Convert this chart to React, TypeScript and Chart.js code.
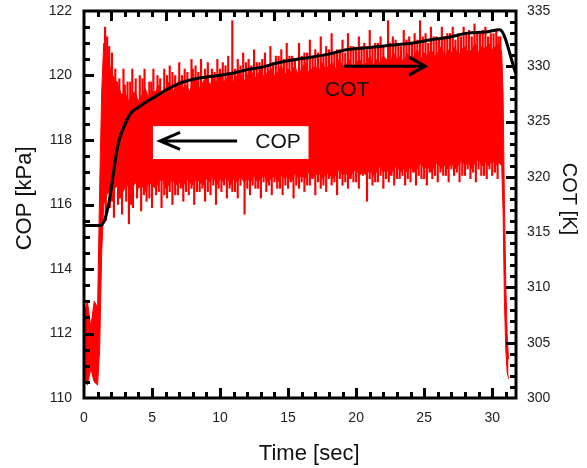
import React, { useEffect, useRef } from "react";
import { Chart, registerables } from "chart.js";

Chart.register(...registerables);

// Time axis of the COP record [sec]
const copTime = [
  0, 0.25, 0.5, 0.75, 1.0, 1.15, 1.3, 1.45, 1.6,
  1.75, 2.0, 2.25, 2.5, 2.75, 3.0, 3.25, 3.5, 3.75, 4.0, 4.25, 4.5, 4.75, 5.0,
  5.25, 5.5, 5.75, 6.0, 6.25, 6.5, 6.75, 7.0, 7.25, 7.5, 7.75, 8.0, 8.25, 8.5,
  8.75, 9.0, 9.25, 9.5, 9.75, 10.0, 10.25, 10.5, 10.75, 11.0, 11.25, 11.5, 11.75,
  12.0, 12.25, 12.5, 12.75, 13.0, 13.25, 13.5, 13.75, 14.0, 14.25, 14.5, 14.75,
  15.0, 15.25, 15.5, 15.75, 16.0, 16.25, 16.5, 16.75, 17.0, 17.25, 17.5, 17.75,
  18.0, 18.25, 18.5, 18.75, 19.0, 19.25, 19.5, 19.75, 20.0, 20.25, 20.5, 20.75,
  21.0, 21.25, 21.5, 21.75, 22.0, 22.25, 22.5, 22.75, 23.0, 23.25, 23.5, 23.75,
  24.0, 24.25, 24.5, 24.75, 25.0, 25.25, 25.5, 25.75, 26.0, 26.25, 26.5, 26.75,
  27.0, 27.25, 27.5, 27.75, 28.0, 28.25, 28.5, 28.75, 29.0, 29.25, 29.5, 29.75,
  30.0, 30.25, 30.5, 30.7, 30.8, 30.9, 31.0, 31.1, 31.2,
];

// Upper edge of the dense COP band [kPa]
const copHigh = [
  112.6, 113.0, 112.2, 113.0, 112.8, 116.5, 119.5, 121.0, 120.4,
  120.6, 120.1, 119.9, 119.7, 119.4, 119.5, 119.2, 119.4, 119.5, 119.2, 119.4, 119.6, 119.3, 119.5,
  119.5, 119.7, 119.4, 119.6, 119.8, 119.5, 119.6, 119.9, 119.6, 119.7, 119.5, 119.8, 119.9, 119.6,
  119.8, 120.0, 119.7, 119.9, 119.8, 120.1, 119.8, 119.9, 120.1, 119.8, 120.0, 120.1, 119.8,
  120.0, 120.2, 119.9, 120.0, 120.2, 119.9, 120.1, 120.2, 120.0, 120.1, 120.3, 120.0,
  120.2, 120.1, 120.3, 120.0, 120.2, 120.4, 120.1, 120.2, 120.3, 120.1, 120.4, 120.2,
  120.3, 120.4, 120.2, 120.5, 120.3, 120.3, 120.5, 120.2, 120.4, 120.5, 120.3, 120.4,
  120.6, 120.3, 120.5, 120.4, 120.6, 120.5, 120.4, 120.7, 120.5, 120.6, 120.4, 120.7,
  120.5, 120.6, 120.8, 120.5, 120.7, 120.6, 120.8, 120.6, 120.7, 120.9, 120.6, 120.8,
  120.7, 120.9, 120.6, 120.8, 120.9, 120.7, 120.8, 121.0, 120.7, 120.9, 120.8, 121.0,
  120.8, 120.9, 121.0, 120.7, 119.5, 116.0, 113.5, 112.0, 111.2,
];

// Lower edge of the dense COP band [kPa]
const copLow = [
  110.7, 110.4, 110.9, 110.5, 110.4, 111.5, 114.5, 116.0, 116.2,
  116.4, 116.2, 116.5, 116.6, 116.3, 116.5, 116.6, 116.4, 116.7, 116.5, 116.6, 116.4, 116.7, 116.6,
  116.5, 116.7, 116.8, 116.5, 116.6, 116.8, 116.6, 116.7, 116.5, 116.8, 116.7, 116.6, 116.8, 116.7,
  116.6, 116.8, 116.7, 116.9, 116.6, 116.8, 116.7, 116.9, 116.6, 116.8, 116.7, 116.9, 116.7,
  116.8, 116.7, 116.9, 116.7, 116.8, 116.9, 116.7, 116.8, 116.9, 116.7, 116.9, 116.8,
  116.9, 116.7, 117.0, 116.8, 116.9, 116.8, 117.0, 116.8, 116.9, 117.0, 116.8, 116.9,
  117.0, 116.8, 116.9, 117.1, 116.9, 117.0, 116.8, 117.0, 117.1, 116.9, 117.0, 116.9,
  117.1, 116.9, 117.0, 117.2, 117.0, 117.1, 116.9, 117.1, 117.2, 117.0, 117.1, 117.0,
  117.2, 117.0, 117.1, 117.3, 117.1, 117.2, 117.0, 117.2, 117.3, 117.1, 117.2, 117.1,
  117.3, 117.1, 117.2, 117.4, 117.2, 117.3, 117.1, 117.3, 117.4, 117.2, 117.3, 117.2,
  117.4, 117.2, 117.3, 117.2, 115.8, 113.0, 111.5, 110.8, 110.6,
];

// Upward COP spikes: time [sec] / peak [kPa]
const spikeUpTime = [
  1.55, 1.7, 1.85, 2.05, 2.3, 2.6, 2.9, 3.2, 3.55, 3.8, 4.1, 4.45, 4.8, 5.1, 5.4,
  5.9, 6.3, 6.7, 7.0, 7.4, 7.9, 8.2, 8.6, 9.1, 9.4, 9.8, 10.2, 10.6, 10.9, 11.3,
  11.7, 12.1, 12.5, 12.9, 13.3, 13.7, 14.1, 14.5, 14.9, 15.3, 15.8, 16.2, 16.6,
  17.0, 17.4, 17.8, 18.2, 18.6, 19.0, 19.4, 19.8, 20.2, 20.6, 21.0, 21.4, 21.8,
  22.35, 22.7, 23.1, 23.5, 23.9, 24.3, 24.7, 25.1, 25.5, 25.9, 26.3, 26.7, 27.1,
  27.5, 27.9, 28.3, 28.7, 29.1, 29.5, 29.9, 30.3, 30.6,
  2.45, 3.0, 3.4, 4.3, 4.95, 5.6, 6.1, 6.5, 7.2, 7.6, 8.0, 8.4, 8.9, 9.6, 10.0,
  10.4, 11.1, 11.5, 11.9, 12.3, 12.7, 13.1, 13.5, 13.9, 14.3, 14.7, 15.1, 15.5,
  16.0, 16.4, 16.8, 17.2, 17.6, 18.0, 18.4, 18.8, 19.2, 19.6, 20.0, 20.4, 20.8,
  21.2, 21.6, 22.0, 22.5, 22.9, 23.3, 23.7, 24.1, 24.5, 24.9, 25.3, 25.7, 26.1,
  26.5, 26.9, 27.3, 27.7, 28.1, 28.5, 28.9, 29.3, 29.7, 30.1, 30.45,
];
const spikeUpValue = [
  121.5, 121.2, 120.9, 120.7, 120.2, 119.9, 120.2, 119.8, 120.2, 119.9, 120.0, 120.2, 119.8, 120.2, 120.0,
  120.2, 120.3, 120.0, 120.4, 120.2, 120.5, 120.3, 120.5, 120.4, 120.2, 120.5, 120.4, 120.6, 121.7, 120.5,
  120.7, 120.5, 120.8, 120.4, 120.7, 120.9, 120.6, 120.8, 121.0, 120.6, 121.0, 120.7, 121.1,
  120.8, 121.2, 120.9, 121.3, 120.8, 121.1, 121.3, 120.9, 121.2, 121.0, 121.4, 121.0, 121.2,
  121.7, 121.2, 121.0, 121.4, 121.2, 121.3, 121.7, 121.3, 121.5, 121.2, 121.5, 121.3, 121.5,
  121.3, 121.5, 121.4, 121.6, 121.3, 121.5, 121.3, 121.4, 121.2,
  119.8, 119.7, 119.8, 119.9, 119.8, 119.9, 120.0, 120.1, 120.0, 120.1, 120.2, 120.1, 120.2, 120.1, 120.2,
  120.3, 120.2, 120.3, 120.4, 120.3, 120.4, 120.5, 120.3, 120.4, 120.6, 120.5, 120.6, 120.5,
  120.6, 120.7, 120.6, 120.7, 120.6, 120.8, 120.7, 120.8, 120.7, 120.9, 120.8, 120.9, 120.8,
  120.9, 121.0, 120.9, 121.0, 121.1, 120.9, 121.1, 121.0, 121.1, 121.2, 121.0, 121.2, 121.1,
  121.2, 121.3, 121.1, 121.2, 121.3, 121.2, 121.3, 121.4, 121.2, 121.3, 121.2,
];

// Downward COP spikes: time [sec] / trough [kPa]
const spikeDownTime = [
  1.6, 1.9, 2.2, 2.5, 2.8, 3.1, 3.3, 3.6, 3.9, 4.2, 4.6, 5.0, 5.3, 5.7, 6.1, 6.5,
  6.9, 7.3, 7.7, 8.1, 8.5, 8.9, 9.3, 9.7, 10.1, 10.5, 10.9, 11.3, 11.8, 12.2, 12.6,
  13.0, 13.4, 13.8, 14.2, 14.6, 15.0, 15.4, 15.8, 16.2, 16.6, 17.0, 17.4, 17.8,
  18.2, 18.6, 19.0, 19.4, 19.8, 20.2, 20.8, 21.2, 21.6, 22.0, 22.4, 22.8, 23.2,
  23.6, 24.0, 24.4, 24.8, 25.2, 25.6, 26.0, 26.4, 26.8, 27.2, 27.6, 28.0, 28.4,
  28.8, 29.2, 29.6, 30.0, 30.4,
  2.05, 2.65, 3.45, 4.4, 4.8, 5.5, 5.9, 6.3, 6.7, 7.1, 7.5, 7.9, 8.3, 8.7, 9.1,
  9.5, 9.9, 10.3, 10.7, 11.1, 11.5, 12.0, 12.4, 12.8, 13.2, 13.6, 14.0, 14.4,
  14.8, 15.2, 15.6, 16.0, 16.4, 16.8, 17.2, 17.6, 18.0, 18.4, 18.8, 19.2, 19.6,
  20.0, 20.5, 21.0, 21.4, 21.8, 22.2, 22.6, 23.0, 23.4, 23.8, 24.2, 24.6, 25.0,
  25.4, 25.8, 26.2, 26.6, 27.0, 27.4, 27.8, 28.2, 28.6, 29.0, 29.4, 29.8, 30.2,
];
const spikeDownValue = [
  115.5, 115.9, 115.6, 116.0, 115.7, 116.1, 115.4, 115.9, 116.2, 115.8, 116.1, 115.9, 116.3, 115.9, 116.2, 116.0,
  116.3, 116.1, 116.3, 116.0, 116.4, 116.1, 116.3, 116.0, 116.4, 116.2, 116.4, 116.2, 115.7, 116.3, 116.5,
  116.2, 116.4, 116.3, 116.5, 116.3, 116.5, 116.2, 116.5, 116.4, 116.6, 116.3, 116.5, 116.4,
  116.6, 116.3, 116.6, 116.5, 116.7, 116.5, 116.1, 116.6, 116.7, 116.5, 116.7, 116.6, 116.8,
  116.6, 116.7, 116.6, 116.8, 116.6, 116.8, 116.7, 116.9, 116.7, 116.9, 116.7, 116.9, 116.8,
  116.7, 116.9, 116.8, 116.9, 116.8,
  116.1, 116.2, 116.0, 116.3, 116.2, 116.4, 116.3, 116.4, 116.3, 116.5, 116.4, 116.5, 116.4, 116.5, 116.4,
  116.6, 116.5, 116.6, 116.5, 116.4, 116.6, 116.5, 116.6, 116.5, 116.7, 116.6, 116.7, 116.5,
  116.6, 116.7, 116.6, 116.7, 116.6, 116.8, 116.7, 116.6, 116.8, 116.7, 116.8, 116.7, 116.8,
  116.7, 116.9, 116.8, 116.7, 116.9, 116.8, 116.9, 116.8, 116.9, 116.8, 117.0, 116.9, 116.8,
  117.0, 116.9, 117.0, 116.9, 117.1, 117.0, 116.9, 117.1, 117.0, 117.1, 116.9, 117.1, 117.0,
];
const copBandMid = 118.5;

// COT curve [sec] / [K]
const cotTime = [
  0, 1.25, 1.4, 1.55, 1.85, 2.15, 2.4, 2.65, 3.0, 3.4, 4.0, 4.6, 5.3, 6.1, 7.1,
  8.3, 9.5, 11.0, 12.0, 13.0, 14.2, 16.0, 18.0, 19.3, 21.0, 22.5, 24.2, 25.5,
  26.7, 28.2, 29.5, 30.55, 31.75,
];
const cotValues = [
  315.6, 315.6, 315.8, 316.2, 317.8, 320.2, 322.3, 323.6, 324.7, 325.7, 326.3,
  326.8, 327.3, 327.9, 328.5, 328.9, 329.1, 329.4, 329.7, 329.9, 330.3, 330.7,
  331.1, 331.5, 331.7, 331.9, 332.1, 332.4, 332.6, 333.0, 333.1, 333.3, 329.3,
];

// Tick labels
const timeTicks = [0, 5, 10, 15, 20, 25, 30];
const copTicks = [110, 112, 114, 116, 118, 120, 122];
const cotTicks = [300, 305, 310, 315, 320, 325, 330, 335];

const FONT = "'Liberation Sans', Arial, Helvetica, sans-serif";
const RED = "#ff0000";

const framePlugin = {
  id: "frameTicks",
  afterDraw(chart: any) {
    const { ctx, chartArea: a, scales } = chart;
    const xs = scales.x;
    const ys = scales.y;
    const y2s = scales.y2;
    ctx.save();
    ctx.strokeStyle = "#000";
    ctx.lineWidth = 3;
    ctx.lineCap = "butt";
    ctx.beginPath();
    for (let v = 1; v <= 31; v++) {
      const px = Math.round(xs.getPixelForValue(v)) + 0.5;
      const lb = v % 5 === 0 ? 10 : 6;
      ctx.moveTo(px, a.bottom);
      ctx.lineTo(px, a.bottom - lb);
      const lt = (v - 2) % 4 === 0 ? 10 : 6;
      ctx.moveTo(px, a.top);
      ctx.lineTo(px, a.top + lt);
    }
    for (let k = 1; k < 24; k++) {
      const v = 110 + k * 0.5;
      const py = Math.round(ys.getPixelForValue(v)) + 0.5;
      const l = k % 4 === 0 ? 10 : 6;
      ctx.moveTo(a.left, py);
      ctx.lineTo(a.left + l, py);
    }
    for (let v = 301; v < 335; v++) {
      const py = Math.round(y2s.getPixelForValue(v)) + 0.5;
      const l = v % 5 === 0 ? 10 : 6;
      ctx.moveTo(a.right, py);
      ctx.lineTo(a.right - l, py);
    }
    ctx.stroke();
    ctx.strokeRect(a.left, a.top, a.right - a.left, a.bottom - a.top);
    ctx.restore();
  },
};

const annotationPlugin = {
  id: "arrowsText",
  afterDatasetsDraw(chart: any) {
    const { ctx, scales } = chart;
    const xs = scales.x;
    const ys = scales.y;
    const X = (v: number) => xs.getPixelForValue(v);
    const Y = (v: number) => ys.getPixelForValue(v);
    ctx.save();
    const bx0 = X(5.07), bx1 = X(16.5), by0 = Y(118.43), by1 = Y(117.41);
    ctx.fillStyle = "#fff";
    ctx.fillRect(bx0, by0, bx1 - bx0, by1 - by0);
    ctx.strokeStyle = "#000";
    ctx.lineWidth = 3;
    ctx.lineCap = "butt";
    ctx.lineJoin = "miter";
    let ay = Y(117.97);
    let tip = X(5.59);
    ctx.beginPath();
    ctx.moveTo(X(11.25), ay);
    ctx.lineTo(tip + 1, ay);
    ctx.moveTo(tip + 20, ay - 8.5);
    ctx.lineTo(tip, ay);
    ctx.lineTo(tip + 20, ay + 8.5);
    ctx.stroke();
    ay = Y(120.29);
    tip = X(25.07);
    ctx.beginPath();
    ctx.moveTo(X(19.12), ay);
    ctx.lineTo(tip - 1, ay);
    ctx.moveTo(tip - 16, ay - 9);
    ctx.lineTo(tip, ay);
    ctx.lineTo(tip - 16, ay + 9);
    ctx.stroke();
    ctx.fillStyle = "#111";
    ctx.font = `21px ${FONT}`;
    ctx.textAlign = "center";
    ctx.textBaseline = "middle";
    ctx.fillText("COP", X(14.26), Y(117.94));
    ctx.fillText("COT", X(19.34), Y(119.55));
    ctx.restore();
  },
};

const zeroPad = (s: any) => {
  s.paddingTop = 0;
  s.paddingBottom = 0;
  s.paddingLeft = 0;
  s.paddingRight = 0;
};

export default function App() {
  const ref = useRef<HTMLCanvasElement | null>(null);

  useEffect(() => {
    if (!ref.current) return;
    const chart = new Chart(ref.current, {
      type: "line",
      data: {
        datasets: [
          {
            label: "COT",
            data: cotTime.map((t, i) => ({ x: t, y: cotValues[i] })),
            yAxisID: "y2",
            borderColor: "#000",
            borderWidth: 3,
            pointRadius: 0,
            fill: false,
            cubicInterpolationMode: "monotone",
            order: 0,
          },
          {
            label: "COP high",
            data: copTime.map((t, i) => ({ x: t, y: copHigh[i] })),
            yAxisID: "y",
            borderColor: RED,
            backgroundColor: RED,
            borderWidth: 1,
            pointRadius: 0,
            tension: 0,
            fill: "+1",
            order: 3,
          },
          {
            label: "COP low",
            data: copTime.map((t, i) => ({ x: t, y: copLow[i] })),
            yAxisID: "y",
            borderColor: RED,
            borderWidth: 1,
            pointRadius: 0,
            tension: 0,
            fill: false,
            order: 4,
          },
          {
            type: "bar",
            label: "COP spikes up",
            data: spikeUpTime.map((t, i) => ({ x: t, y: [copBandMid, spikeUpValue[i]] })),
            yAxisID: "y",
            backgroundColor: RED,
            borderWidth: 0,
            barThickness: 1.5,
            grouped: false,
            order: 1,
          },
          {
            type: "bar",
            label: "COP spikes down",
            data: spikeDownTime.map((t, i) => ({ x: t, y: [spikeDownValue[i], copBandMid] })),
            yAxisID: "y",
            backgroundColor: RED,
            borderWidth: 0,
            barThickness: 1.5,
            grouped: false,
            order: 2,
          },
        ],
      } as any,
      options: {
        responsive: false,
        animation: false,
        layout: { padding: { top: 11, left: 0, right: 0, bottom: 0 } },
        plugins: {
          legend: { display: false },
          tooltip: { enabled: false },
        },
        scales: {
          x: {
            type: "linear",
            position: "bottom",
            min: 0,
            max: 31.75,
            offset: false,
            grid: { display: false, drawTicks: false, offset: false },
            border: { display: false },
            afterBuildTicks: (s: any) => {
              s.ticks = timeTicks.map((v) => ({ value: v }));
            },
            afterFit: (s: any) => {
              s.height = 70;
              zeroPad(s);
            },
            ticks: {
              padding: 12,
              color: "#222",
              font: { family: FONT, size: 14 },
              maxRotation: 0,
              callback: (v: any) => String(v),
            },
            title: {
              display: true,
              text: "   Time [sec]",
              color: "#111",
              font: { family: FONT, size: 22 },
              padding: { top: 0, bottom: 1 },
            },
          },
          y: {
            type: "linear",
            position: "left",
            min: 110,
            max: 122,
            grid: { display: false, drawTicks: false },
            border: { display: false },
            afterBuildTicks: (s: any) => {
              s.ticks = copTicks.map((v) => ({ value: v }));
            },
            afterFit: (s: any) => {
              s.width = 84;
              zeroPad(s);
            },
            ticks: {
              padding: 12,
              color: "#222",
              font: { family: FONT, size: 14 },
              callback: (v: any) => String(v),
            },
            title: {
              display: true,
              text: "  COP [kPa]",
              color: "#111",
              font: { family: FONT, size: 22 },
              padding: { top: 12, bottom: 0 },
            },
          },
          y2: {
            type: "linear",
            position: "right",
            min: 300,
            max: 335,
            grid: { display: false, drawTicks: false },
            border: { display: false },
            afterBuildTicks: (s: any) => {
              s.ticks = cotTicks.map((v) => ({ value: v }));
            },
            afterFit: (s: any) => {
              s.width = 71;
              zeroPad(s);
            },
            ticks: {
              padding: 11,
              color: "#222",
              font: { family: FONT, size: 14 },
              callback: (v: any) => String(v),
            },
            title: {
              display: true,
              text: "COT [K]  ",
              color: "#111",
              font: { family: FONT, size: 20 },
              padding: { top: 6, bottom: 0 },
            },
          },
        },
      } as any,
      plugins: [annotationPlugin, framePlugin],
    });
    return () => chart.destroy();
  }, []);

  return (
    <div style={{ position: "absolute", left: 0, top: 0, width: 587, height: 468, background: "#fff" }}>
      <canvas ref={ref} width={587} height={468} />
    </div>
  );
}
